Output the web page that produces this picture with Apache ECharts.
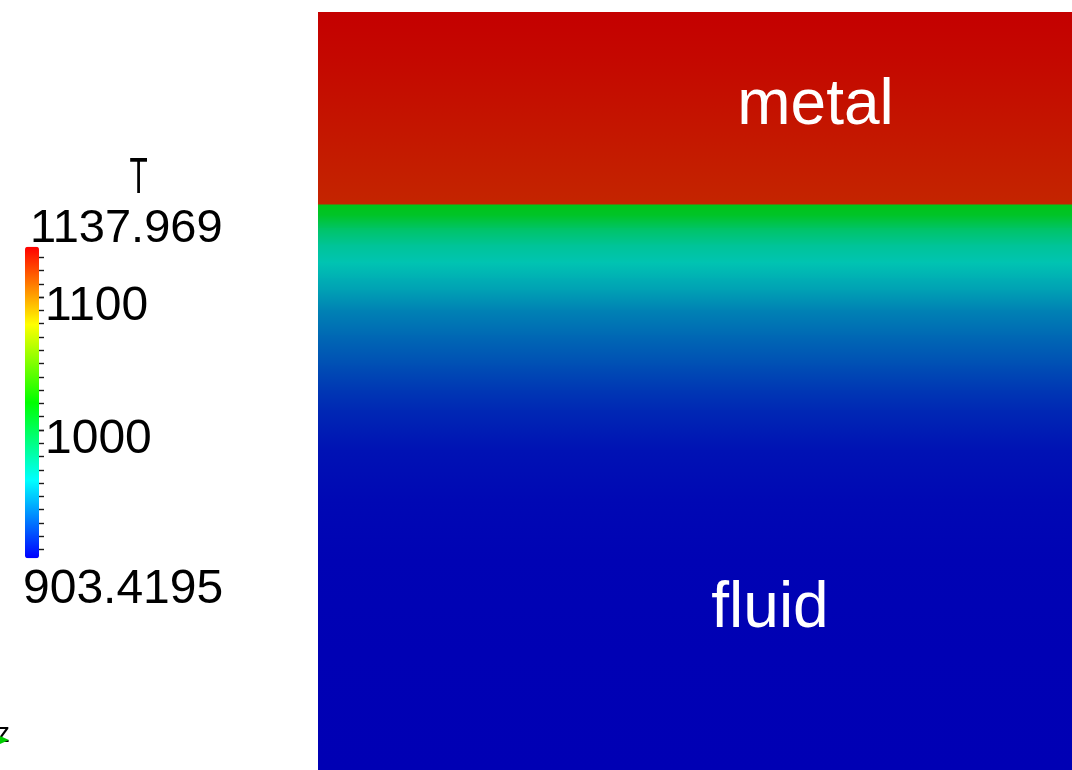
<!DOCTYPE html>
<html>
<head>
<meta charset="utf-8">
<script src="https://cdn.jsdelivr.net/npm/echarts@6/dist/echarts.min.js"></script>
<style>
html,body{margin:0;padding:0;background:#ffffff;}
#chart{width:1072px;height:770px;}
</style>
</head>
<body>
<div id="chart"></div>
<script>
// ---- data ----
const T_MIN = 903.4195;
const T_MAX = 1137.969;
const colorbarTitle = 'T';
const colorbarLabels = [1000, 1100];
// normalised height of the domain (1 = top of metal, 0 = bottom of fluid)
const heightZ = [1.000, 0.937, 0.871, 0.805, 0.746,
                 0.746, 0.732, 0.715, 0.693, 0.670, 0.649, 0.633, 0.607, 0.574,
                 0.534, 0.501, 0.475, 0.422, 0.356, 0.277, 0.158, 0.000];
// temperature at those heights
const temperature = [1137.9, 1135.5, 1132.5, 1129.5, 1127.0,
                     1012.5, 1007.8, 987.9, 971.6, 962.6, 955.7, 951.3, 942.3, 934.8,
                     926.8, 919.8, 915.4, 908.8, 905.8, 904.3, 903.6, 903.42];
const domainX = [0, 1];
const regionNames = ['metal', 'fluid'];

// ---- styles ----
const FONT = "'Liberation Sans', Arial, sans-serif";
const BAR_COLORS = ['#0000ff', '#00ffff', '#00ff00', '#ffff00', '#ff0000'];
const SHADED = ['#0000b4', '#00c4b4', '#00c400', '#c4c400', '#c40000'];
function shade(t) {
  return echarts.color.lerp((t - T_MIN) / (T_MAX - T_MIN), SHADED);
}

// bands between consecutive samples
const bands = [];
for (let i = 0; i < heightZ.length - 1; i++) {
  if (heightZ[i] > heightZ[i + 1]) {
    bands.push([heightZ[i], heightZ[i + 1], temperature[i], temperature[i + 1]]);
  }
}

const chart = echarts.init(document.getElementById('chart'), null, {renderer: 'canvas'});

const tickStyle = {color: '#1a1a1a', width: 1.4};

chart.setOption({
  animation: false,
  backgroundColor: '#ffffff',
  grid: [
    {left: 318, top: 12, right: 0, bottom: 0},
    {left: 39, top: 257.29, width: 1, height: 292.27},
    {left: 33, top: 297.14, width: 1, height: 132.85}
  ],
  xAxis: [
    {gridIndex: 0, type: 'value', min: domainX[0], max: domainX[1], show: false},
    {gridIndex: 1, type: 'value', min: 0, max: 1, show: false},
    {gridIndex: 2, type: 'value', min: 0, max: 1, show: false}
  ],
  yAxis: [
    {gridIndex: 0, type: 'value', min: 0, max: 1, show: false},
    {gridIndex: 1, type: 'value', min: 910, max: 1130, interval: 10, position: 'left',
     axisLine: {show: false}, splitLine: {show: false},
     axisTick: {show: true, inside: true, length: 5, lineStyle: tickStyle},
     axisLabel: {show: false}},
    {gridIndex: 2, type: 'value', min: colorbarLabels[0], max: colorbarLabels[1], interval: 100, position: 'left',
     axisLine: {show: false}, splitLine: {show: false},
     axisTick: {show: true, inside: true, length: 11, lineStyle: tickStyle},
     axisLabel: {show: true, inside: true, margin: 12, fontSize: 48, fontFamily: FONT,
                 color: '#000000', verticalAlign: 'top', lineHeight: 19,
                 formatter: function (v) { return String(v); },
                 showMinLabel: true, showMaxLabel: true}}
  ],
  visualMap: [{
    type: 'continuous',
    min: T_MIN, max: T_MAX,
    seriesIndex: 1, dimension: 1,
    orient: 'vertical',
    left: 25, top: 246.7,
    itemWidth: 14, itemHeight: 311.6,
    padding: 0,
    calculable: false,
    hoverLink: false,
    inRange: {color: BAR_COLORS}
  }],
  series: [
    {
      type: 'custom',
      xAxisIndex: 0, yAxisIndex: 0,
      silent: true,
      z: 1,
      data: bands,
      renderItem: function (params, api) {
        const zTop = api.value(0), zBot = api.value(1);
        const tTop = api.value(2), tBot = api.value(3);
        const p0 = api.coord([domainX[0], zTop]);
        const p1 = api.coord([domainX[1], zBot]);
        return {
          type: 'rect',
          shape: {x: p0[0], y: p0[1], width: p1[0] - p0[0], height: p1[1] - p0[1] + 1},
          style: {
            fill: new echarts.graphic.LinearGradient(0, 0, 0, 1, [
              {offset: 0, color: shade(tTop)},
              {offset: 1, color: shade(tBot)}
            ])
          }
        };
      }
    },
    {type: 'scatter', xAxisIndex: 1, yAxisIndex: 1, data: [], silent: true}
  ],
  graphic: {
    elements: [
      {type: 'text', x: 138.5, y: 179.5, scaleX: 0.62, scaleY: 1.05, silent: true, z: 100,
       style: {text: colorbarTitle, font: '48px ' + FONT, fill: '#000000', align: 'center', verticalAlign: 'middle'}},
      {type: 'text', x: 30, y: 229.5, silent: true, z: 100,
       style: {text: String(T_MAX), font: '47px ' + FONT, fill: '#000000', align: 'left', verticalAlign: 'middle'}},
      {type: 'text', x: 23, y: 589.5, silent: true, z: 100,
       style: {text: String(T_MIN), font: '48px ' + FONT, fill: '#000000', align: 'left', verticalAlign: 'middle'}},
      {type: 'text', x: 815.5, y: 106, silent: true, z: 100,
       style: {text: regionNames[0], font: '64px ' + FONT, fill: '#ffffff', align: 'center', verticalAlign: 'middle'}},
      {type: 'text', x: 770, y: 609, silent: true, z: 100,
       style: {text: regionNames[1], font: '64px ' + FONT, fill: '#ffffff', align: 'center', verticalAlign: 'middle'}},
      {type: 'text', x: -4, y: 734, silent: true, z: 100,
       style: {text: 'z', font: '28px ' + FONT, fill: '#000000', align: 'left', verticalAlign: 'middle'}},
      {type: 'polygon', silent: true, z: 100,
       shape: {points: [[0, 736], [9, 740], [0, 744]]},
       style: {fill: '#00cc00'}}
    ]
  }
});
</script>
</body>
</html>
